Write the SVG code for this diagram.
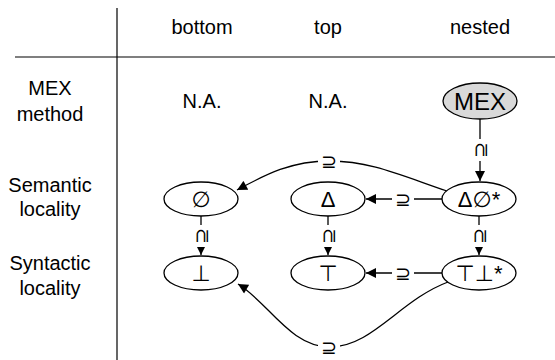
<svg xmlns="http://www.w3.org/2000/svg" width="555" height="360" viewBox="0 0 555 360">
<style>
text{font-family:"Liberation Sans","DejaVu Sans",sans-serif;fill:#000;text-anchor:middle}
.hd{font-size:20px}
.nd{font-size:22px}
.lb{font-size:19px}
.el{fill:#fff;stroke:#000;stroke-width:1.3}
.ed{fill:none;stroke:#000;stroke-width:1.3}
.bg{fill:#fff}
</style>
<defs>
<marker id="ah" viewBox="0 0 10 10" refX="10" refY="5" markerWidth="11" markerHeight="10" markerUnits="userSpaceOnUse" orient="auto">
<path d="M0,0 L10,5 L0,10 z" fill="#000"/>
</marker>
</defs>
<rect width="555" height="360" fill="#fff"/>
<g id="grid">
<line x1="117" y1="8" x2="117" y2="360" stroke="#000" stroke-width="1.2"/>
<line x1="15" y1="57" x2="555" y2="57" stroke="#000" stroke-width="1.2"/>
</g>
<g id="headers">
<text class="hd" x="202" y="34">bottom</text>
<text class="hd" x="328" y="34">top</text>
<text class="hd" x="480" y="34">nested</text>
<text class="hd" x="50" y="95">MEX</text>
<text class="hd" x="50" y="121">method</text>
<text class="hd" x="50" y="192">Semantic</text>
<text class="hd" x="50" y="216">locality</text>
<text class="hd" x="50" y="270">Syntactic</text>
<text class="hd" x="50" y="295">locality</text>
<text class="hd" x="202" y="108">N.A.</text>
<text class="hd" x="328" y="108">N.A.</text>
</g>
<g id="connectors">
<line class="ed" x1="480" y1="119" x2="480" y2="181" marker-end="url(#ah)"/>
<line class="ed" x1="201" y1="216" x2="201" y2="255" marker-end="url(#ah)"/>
<line class="ed" x1="328" y1="216" x2="328" y2="255" marker-end="url(#ah)"/>
<line class="ed" x1="479" y1="216" x2="479" y2="255" marker-end="url(#ah)"/>
<line class="ed" x1="442" y1="199" x2="366" y2="199" marker-end="url(#ah)"/>
<line class="ed" x1="442" y1="273" x2="366" y2="273" marker-end="url(#ah)"/>
<path class="ed" d="M447,191 C400,175 370,161 330,161 C290,161 265,175 237,190" marker-end="url(#ah)"/>
<path class="ed" d="M448,282 C400,300 372,347 330,347 C290,347 268,302 238,284" marker-end="url(#ah)"/>
<rect class="bg" x="471" y="139" width="18" height="22"/>
<text class="lb" transform="translate(480,150) rotate(-90)" y="6.5">⊇</text>
<rect class="bg" x="192" y="225" width="18" height="22"/>
<text class="lb" transform="translate(201,236) rotate(-90)" y="6.5">⊇</text>
<rect class="bg" x="319" y="225" width="18" height="22"/>
<text class="lb" transform="translate(328,236) rotate(-90)" y="6.5">⊇</text>
<rect class="bg" x="470" y="225" width="18" height="22"/>
<text class="lb" transform="translate(479,236) rotate(-90)" y="6.5">⊇</text>
<rect class="bg" x="392" y="189" width="22" height="20"/>
<text class="lb" x="403" y="205.5">⊇</text>
<rect class="bg" x="392" y="263" width="22" height="20"/>
<text class="lb" x="403" y="279.5">⊇</text>
<rect class="bg" x="318" y="151" width="22" height="20"/>
<text class="lb" x="329" y="167.5">⊇</text>
<rect class="bg" x="318" y="337" width="22" height="20"/>
<text class="lb" x="329" y="353.5">⊇</text>
</g>
<g id="n-mex">
<ellipse class="el" cx="480" cy="101" rx="37" ry="18" style="fill:#d9d9d9"/>
<text class="nd" x="480" y="109.5" style="font-size:24px">MEX</text>
</g>
<g id="n-empty">
<ellipse class="el" cx="201" cy="199" rx="37" ry="17"/>
<text class="nd" x="201" y="207">∅</text>
</g>
<g id="n-delta">
<ellipse class="el" cx="328" cy="199" rx="37" ry="17"/>
<text class="nd" x="328" y="207">Δ</text>
</g>
<g id="n-deltaempty">
<ellipse class="el" cx="479" cy="199" rx="37" ry="17"/>
<text class="nd" x="479" y="207">Δ∅*</text>
</g>
<g id="n-bot">
<ellipse class="el" cx="201" cy="273" rx="37" ry="17"/>
<text class="nd" x="201" y="281">⊥</text>
</g>
<g id="n-top">
<ellipse class="el" cx="328" cy="273" rx="37" ry="17"/>
<text class="nd" x="328" y="281">⊤</text>
</g>
<g id="n-topbot">
<ellipse class="el" cx="479" cy="273" rx="37" ry="17"/>
<text class="nd" x="479" y="281">⊤⊥*</text>
</g>
</svg>
